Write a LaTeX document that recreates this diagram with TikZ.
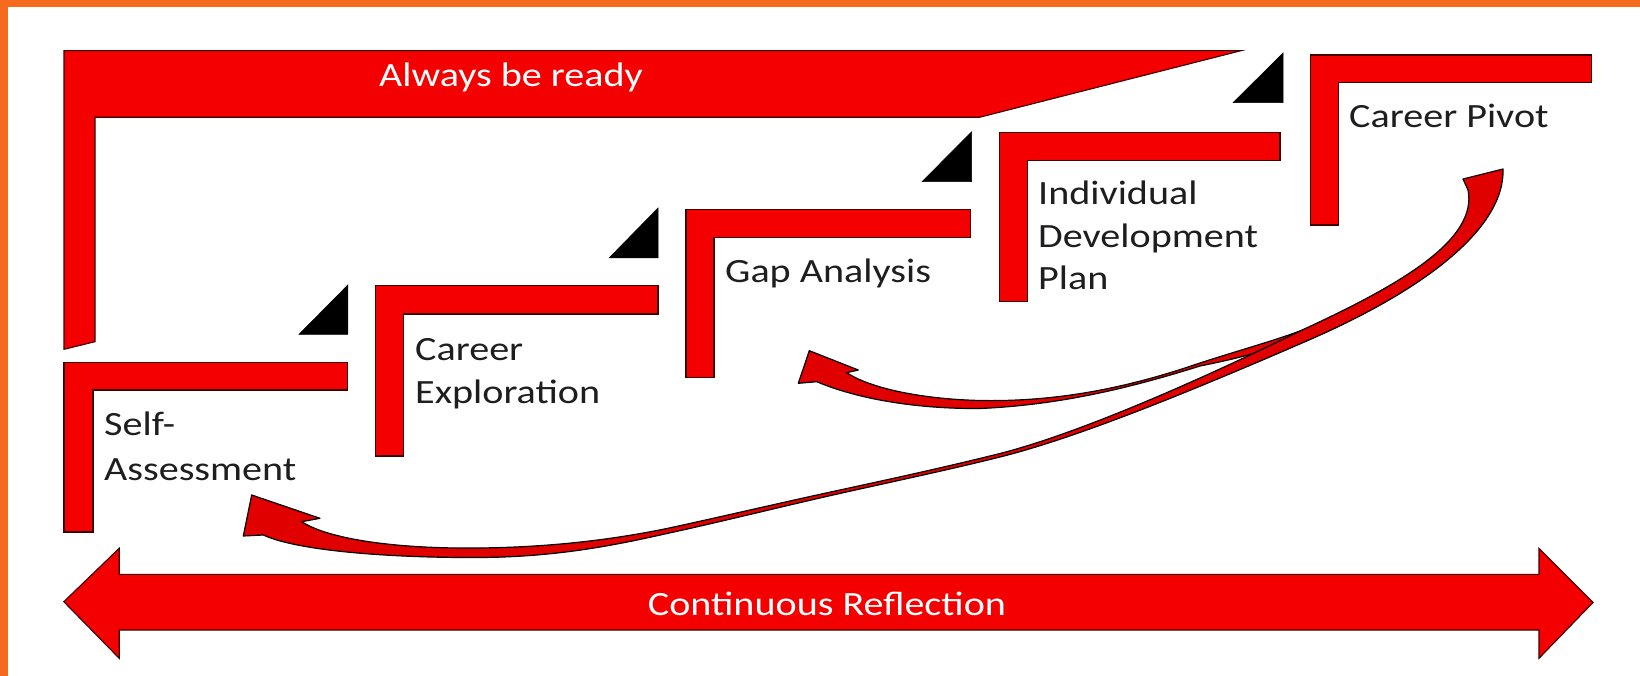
\documentclass[tikz,border=0pt]{standalone}
\usepackage{fontspec}
\newfontfamily\lblfont{Carlito}[FakeStretch=1.18]
\definecolor{brdorange}{RGB}{245,106,30}
\definecolor{stepred}{RGB}{245,0,0}
\definecolor{edgecol}{RGB}{60,0,0}
\definecolor{arrred}{RGB}{225,0,0}
\definecolor{lblcol}{RGB}{30,30,30}
\begin{document}
\begin{tikzpicture}[x=1pt,y=-1pt,
  redshape/.style={fill=stepred,draw=edgecol,line width=1.1pt,line join=miter},
  wedgetri/.style={fill=black,draw=black,line width=0.5pt},
  curvearrow/.style={fill=arrred,draw=black,line width=1.2pt,line join=round},
  lbltext/.style={font=\lblfont\fontsize{34}{43}\selectfont,text=lblcol,inner sep=0pt,anchor=base west},
  whitetext/.style={font=\lblfont\fontsize{34}{43}\selectfont,text=white,inner sep=0pt,anchor=base}]
\useasboundingbox (0,0) rectangle (1640,676);
\fill[white] (0,0) rectangle (1640,676);
\fill[brdorange] (0,0) rectangle (1640,7.5);
\fill[brdorange] (0,0) rectangle (7.5,676);

% Always be ready frame
\draw[redshape] (64,50.7) -- (1241,50.7) -- (979.5,117.3) -- (95,117.3) -- (95,341.7) -- (64,349.3) -- cycle;
\node[whitetext] (ready) at (511,87) {Always be ready};

% steps
\draw[redshape] (64,362.3) -- (347.8,362.3) -- (347.8,390) -- (93,390) -- (93,532) -- (64,532) -- cycle;
\draw[redshape] (375.5,285.7) -- (658,285.7) -- (658,314) -- (403.8,314) -- (403.8,456) -- (375.5,456) -- cycle;
\draw[redshape] (686,209.3) -- (970.6,209.3) -- (970.6,237.3) -- (714,237.3) -- (714,377.7) -- (686,377.7) -- cycle;
\draw[redshape] (999.4,132.7) -- (1280,132.7) -- (1280,160.7) -- (1027.6,160.7) -- (1027.6,301.7) -- (999.4,301.7) -- cycle;
\draw[redshape] (1310.6,55) -- (1591.4,55) -- (1591.4,82.3) -- (1338.8,82.3) -- (1338.8,225) -- (1310.6,225) -- cycle;

% black wedges
\draw[wedgetri] (347.8,285) -- (299,334.3) -- (347.8,334.3) -- cycle;
\draw[wedgetri] (658,208) -- (609,258) -- (658,258) -- cycle;
\draw[wedgetri] (971.7,131.7) -- (922,181.7) -- (971.7,181.7) -- cycle;
\draw[wedgetri] (1283,53) -- (1233,102.7) -- (1283,102.7) -- cycle;

% labels
\node[lbltext] (sa1) at (104,435) {Self-};
\node[lbltext] (sa2) at (104,480) {Assessment};
\node[lbltext] (ce1) at (415,360) {Career};
\node[lbltext] (ce2) at (415,403) {Exploration};
\node[lbltext] (ga) at (725,282) {Gap Analysis};
\node[lbltext] (idp1) at (1038,205) {Individual};
\node[lbltext] (idp2) at (1038,248) {Development};
\node[lbltext] (idp3) at (1038,290) {Plan};
\node[lbltext] (cp) at (1349,127.7) {Career Pivot};

% curved arrow to Gap Analysis
\draw[curvearrow] (809.3,350.7) -- (858.3,370) -- (846.7,372.7)
  .. controls (870,388) and (920,399) .. (980,400.5)
  .. controls (1060,402) and (1130,387) .. (1200,363)
  .. controls (1240,350) and (1270,342) .. (1300,331)
  -- (1312,328) -- (1308,336)
  .. controls (1270,350) and (1240,358) .. (1200,366)
  .. controls (1130,388) and (1060,405) .. (980,408.5)
  .. controls (920,409) and (860,400) .. (816.7,381.7)
  -- (798.3,383.3) -- cycle;

% curved arrow to Self-Assessment
\draw[curvearrow] (251.7,495) -- (320,518.3) -- (301.7,521.7)
  .. controls (330,540) and (400,549) .. (480,548)
  .. controls (560,547) and (620,538) .. (667,528.5)
  .. controls (720,517) and (780,503) .. (833,491.5)
  .. controls (900,477) and (950,466) .. (1000,453.5)
  .. controls (1080,433) and (1200,380) .. (1300,331)
  .. controls (1400,285) and (1478,240) .. (1468,190)
  -- (1463,179) -- (1503,169)
  .. controls (1505,230) and (1420,292) .. (1306.7,341)
  .. controls (1203,386) and (1082,436.5) .. (1000,457)
  .. controls (950,469.5) and (900,480) .. (833,495)
  .. controls (780,507) and (720,522) .. (667,533.5)
  .. controls (620,544) and (560,557) .. (480,557.5)
  .. controls (400,558) and (300,552) .. (263.3,535)
  -- (243.3,536) -- cycle;

% Continuous reflection double arrow
\draw[redshape] (63.8,601.7) -- (119.2,548.3) -- (119.2,574.3) -- (1539,574.3) -- (1539,548.3) -- (1593,602.5) -- (1539,658.3) -- (1539,630) -- (119.2,630) -- (119.2,658.3) -- cycle;
\node[whitetext] (reflect) at (827,615) {Continuous Reflection};
\end{tikzpicture}
\end{document}
